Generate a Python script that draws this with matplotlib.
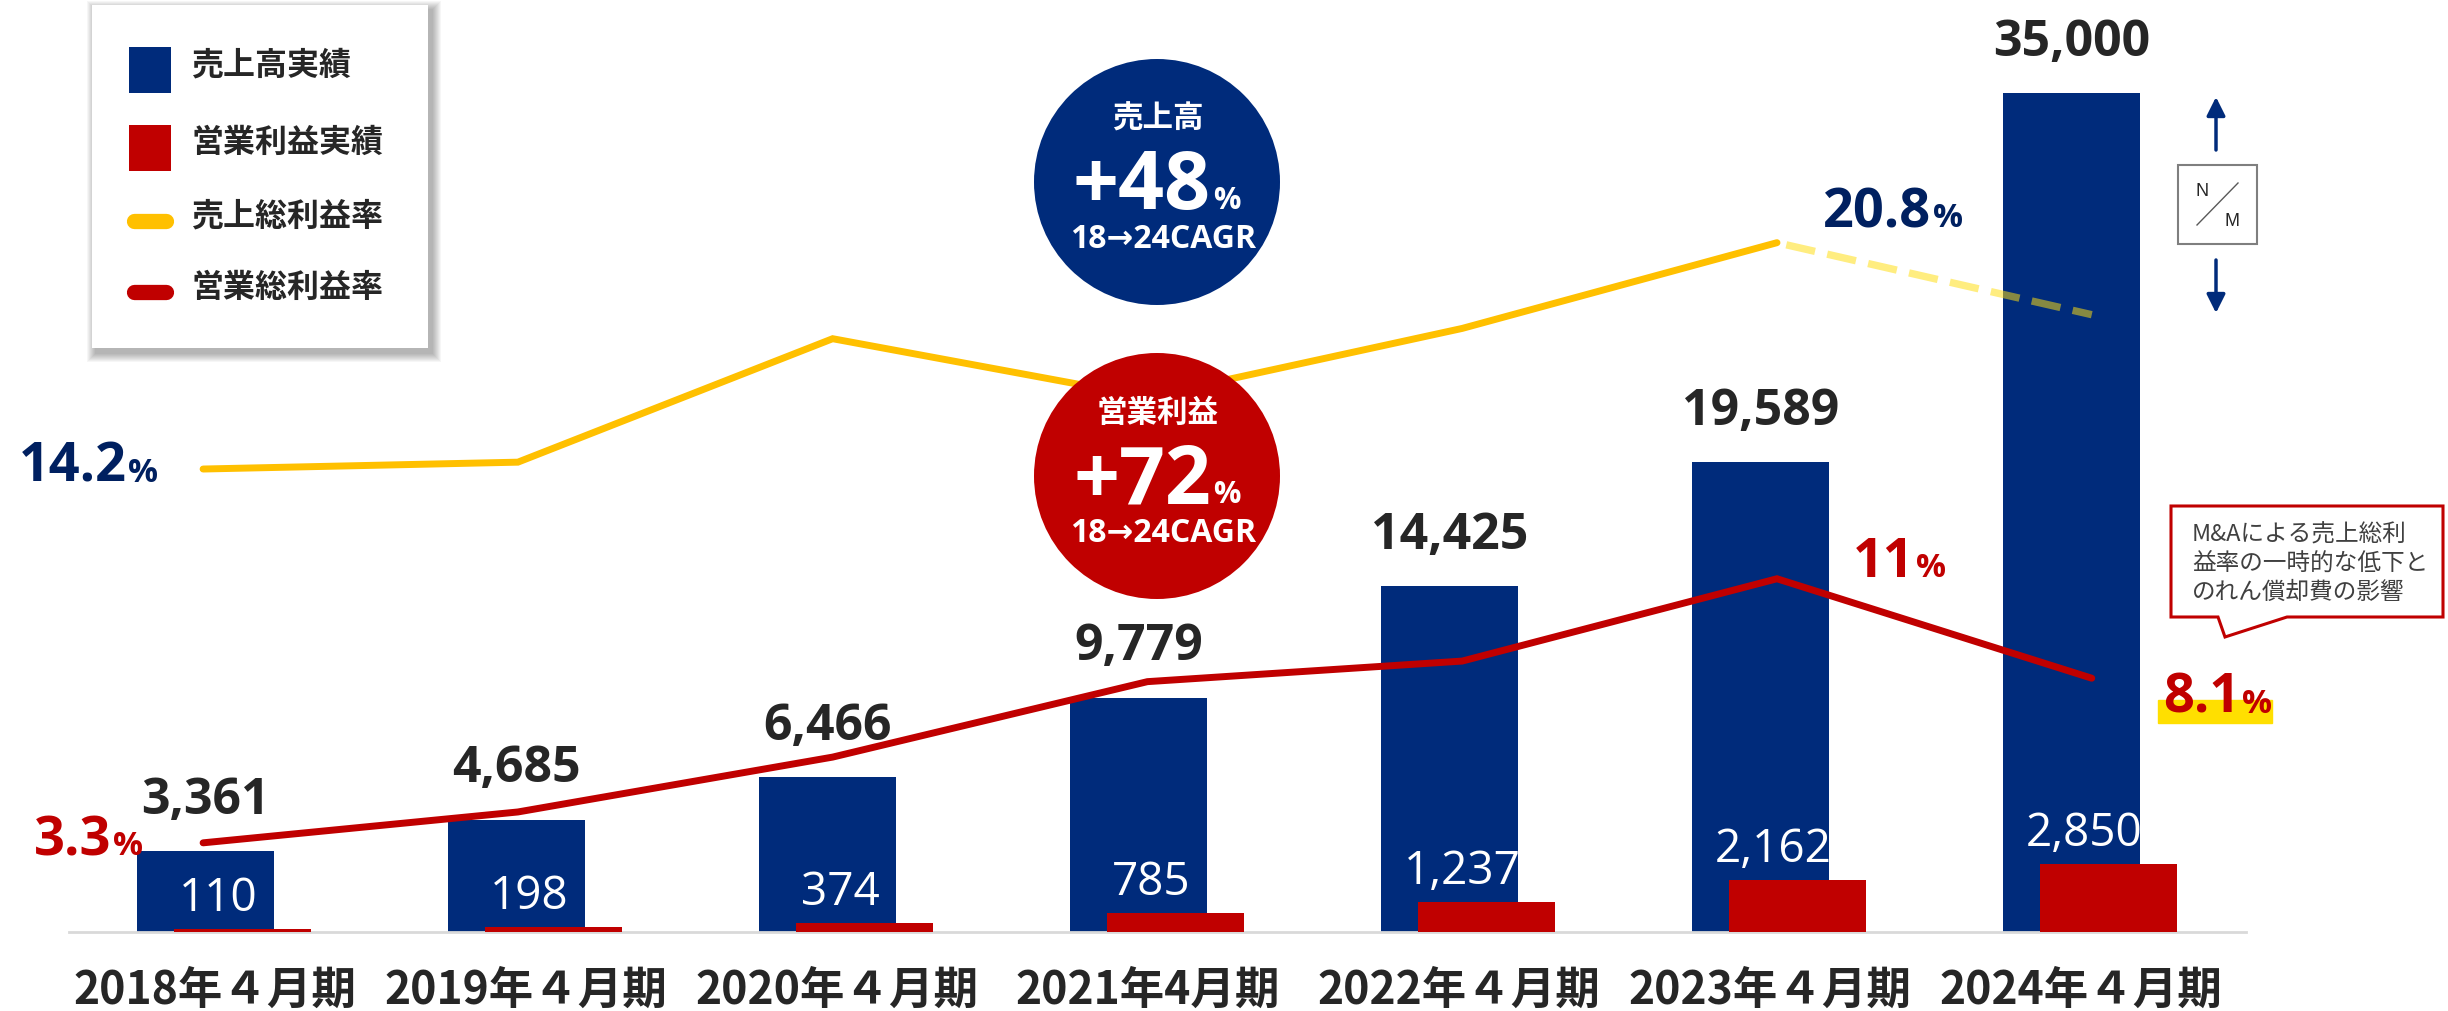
import numpy as np
import matplotlib.pyplot as plt
from matplotlib.patches import Rectangle, Circle, Polygon
from matplotlib.transforms import IdentityTransform

plt.rcParams['font.family'] = ['Noto Sans CJK JP', 'DejaVu Sans']

# --- data ---
periods = ['2018年４月期', '2019年４月期', '2020年４月期', '2021年4月期',
           '2022年４月期', '2023年４月期', '2024年４月期']
sales = [3361, 4685, 6466, 9779, 14425, 19589, 35000]
op_profit = [110, 198, 374, 785, 1237, 2162, 2850]
gross_margin = [14.2, 14.4, 18.0, 16.3, 18.3, 20.8, 18.7]
op_margin = [3.3, 4.2, 5.8, 8.0, 8.6, 11.0, 8.1]

legend_labels = ['売上高実績', '営業利益実績', '売上総利益率', '営業総利益率']
note_lines = ['M&Aによる売上総利', '益率の一時的な低下と', 'のれん償却費の影響']

NAVY = '#002B7B'
TEXT_NAVY = '#002060'
RED = '#C00000'
YELLOW = '#FFC000'
DARK = '#262626'
NUM_FONT = ['Open Sans', 'DejaVu Sans']

W, H = 2448, 1011
fig = plt.figure(figsize=(W / 100, H / 100), dpi=100)
rect = [69 / W, 79 / H, 2177 / W, 892 / H]

# bars: sales and operating profit
ax = fig.add_axes(rect)
ax.patch.set_alpha(0)
x = np.arange(len(periods))
bw = 0.44
ax.bar(x - 0.061, sales, bw, color=NAVY, zorder=2)
ax.bar(x + 0.058, op_profit, bw, color=RED, zorder=3)
ax.set_xlim(-0.5, 6.5)
ax.set_ylim(0, 37211)
for s in ['top', 'left', 'right']:
    ax.spines[s].set_visible(False)
ax.spines['bottom'].set_color('#D9D9D9')
ax.spines['bottom'].set_linewidth(2)
ax.set_yticks([])
ax.set_xticks(x - 0.03, periods, fontsize=32, fontweight='bold', color=DARK)
ax.tick_params(axis='x', length=0, pad=26)

for i in range(len(x)):
    ax.annotate(f'{sales[i]:,}', (x[i] - 0.061, sales[i]), xytext=(0, 27),
                textcoords='offset points', ha='center', va='baseline',
                fontsize=36, fontweight='bold', color=DARK, family=NUM_FONT)
    ax.annotate(f'{op_profit[i]:,}', (x[i] - 0.02, op_profit[i]), xytext=(0, 13),
                textcoords='offset points', ha='center', va='baseline',
                fontsize=33, color='white', family=NUM_FONT, zorder=4)

# margin lines on their own scale
ax2 = fig.add_axes(rect)
ax2.patch.set_alpha(0)
ax2.axis('off')
ax2.set_xlim(-0.426, 6.49)
ax2.set_ylim(0.70, 26.71)
ax2.plot(x[:6], gross_margin[:6], color=YELLOW, lw=5,
         solid_capstyle='round', solid_joinstyle='miter')
ax2.plot(x[5:], gross_margin[5:], color='#FFDD10', alpha=0.53, lw=5.3,
         ls=(4.4, (4, 1.7)))
ax2.plot(x, op_margin, color=RED, lw=5,
         solid_capstyle='round', solid_joinstyle='miter')


def pct_label(axis, xv, yv, text, color, dx, dy):
    axis.annotate(text, (xv, yv), xytext=(dx, dy), textcoords='offset points',
                  ha='right', va='baseline', fontsize=39, fontweight='bold',
                  color=color, family=NUM_FONT, zorder=5)
    axis.annotate('%', (xv, yv), xytext=(dx + 1, dy), textcoords='offset points',
                  ha='left', va='baseline', fontsize=24, fontweight='bold',
                  color=color, family=NUM_FONT, zorder=5)


# highlight under the last operating margin label
ax2.add_patch(Rectangle((2158, H - 723), 114, 23, color='#FFDF00',
                        transform=IdentityTransform(), clip_on=False, zorder=4))

pct_label(ax2, x[0], gross_margin[0], f'{gross_margin[0]:.1f}', TEXT_NAVY, -55, -9)
pct_label(ax2, x[5], gross_margin[5], f'{gross_margin[5]:.1f}', TEXT_NAVY, 111, 11)
pct_label(ax2, x[0], op_margin[0], f'{op_margin[0]:.1f}', RED, -66, -9)
pct_label(ax2, x[5], op_margin[5], f'{op_margin[5]:.0f}', RED, 99, 1)
pct_label(ax2, x[6], op_margin[6], f'{op_margin[6]:.1f}', RED, 107, -25)

# overlay in pixel units: legend, CAGR badges, N/M marker, note
deco = fig.add_axes([0, 0, 1, 1], zorder=5)
deco.set_xlim(0, W)
deco.set_ylim(H, 0)
deco.axis('off')

# legend box with a soft shadow
for e in range(9, 0, -1):
    deco.add_patch(Rectangle((96 - e, 10 - e), 336 + 2 * e, 343 + 2 * e,
                             color='black', alpha=0.035, lw=0))
deco.add_patch(Rectangle((92, 5), 336, 343, color='white', lw=0))
deco.add_patch(Rectangle((129, 47), 42, 46, color=NAVY, lw=0))
deco.add_patch(Rectangle((129, 125), 42, 46, color=RED, lw=0))
deco.plot([134, 166], [221, 221], color=YELLOW, lw=11, solid_capstyle='round')
deco.plot([134, 166], [292, 292], color=RED, lw=11, solid_capstyle='round')
for lbl, ty in zip(legend_labels, [66, 143, 217, 288]):
    deco.text(191, ty, lbl, ha='left', va='center', fontsize=23,
              fontweight='bold', color=DARK)

# CAGR badges
badges = [(182, NAVY, '売上高', '+48'), (476, RED, '営業利益', '+72')]
for cy, col, title, big in badges:
    deco.add_patch(Circle((1157, cy), 123, color=col, lw=0))
    deco.text(1158, cy - 63, title, ha='center', va='center', fontsize=22,
              fontweight='bold', color='white')
    deco.text(1211, cy + 27, big, ha='right', va='baseline', fontsize=58,
              fontweight='bold', color='white', family=NUM_FONT)
    deco.text(1213, cy + 27, '%', ha='left', va='baseline', fontsize=22,
              fontweight='bold', color='white', family=NUM_FONT)
    deco.text(1163, cy + 58, '18→24CAGR', ha='center', va='center',
              fontsize=23, fontweight='bold', color='white', family=NUM_FONT)

# N/M marker
deco.add_patch(Rectangle((2178, 165), 79, 79, fc='white', ec='#7F7F7F', lw=1.5))
deco.plot([2197, 2238], [225, 183], color='#595959', lw=1)
deco.text(2202, 191, 'N', ha='center', va='center', fontsize=13,
          color=DARK, family='Liberation Sans')
deco.text(2232, 221, 'M', ha='center', va='center', fontsize=13,
          color=DARK, family='Liberation Sans')
for y0, y1 in [(150, 97), (260, 313)]:
    deco.annotate('', xy=(2216, y1), xytext=(2216, y0),
                  arrowprops=dict(arrowstyle='-|>', color=NAVY, lw=2.5,
                                  mutation_scale=28, shrinkA=0, shrinkB=0))

# note callout
deco.add_patch(Polygon([(2171, 506), (2443, 506), (2443, 617), (2287, 617),
                        (2225, 637), (2218, 617), (2171, 617)],
                       closed=True, fc='white', ec=RED, lw=2.2))
for line, ty in zip(note_lines, [535, 563, 592]):
    deco.text(2192, ty, line, ha='left', va='center', fontsize=17, color='#404040')

fig.savefig('out.png', dpi=100)
